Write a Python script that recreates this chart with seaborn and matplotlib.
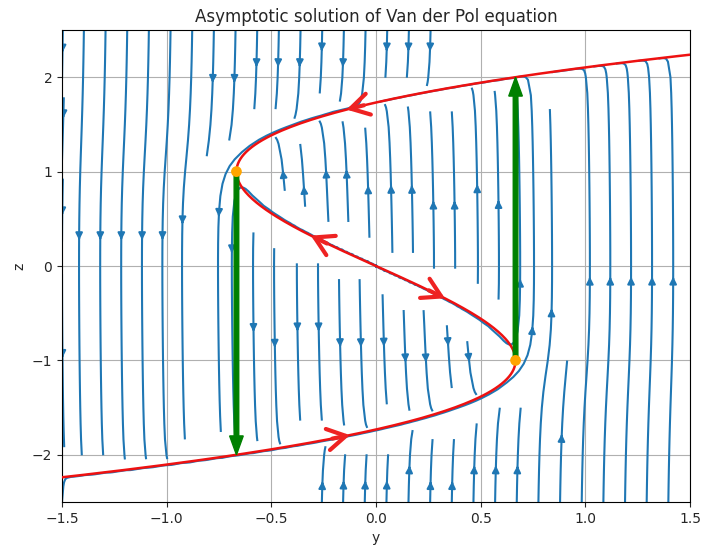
import numpy as np
import pandas as pd
import matplotlib
matplotlib.use("Agg")
import matplotlib.pyplot as plt
import seaborn as sns

# parameters / data
mu = 10.0
y_range = [-1.5, 1.5]
z_range = [-2.5, 2.5]
x_ticks = [-1.5, -1.0, -0.5, 0.0, 0.5, 1.0, 1.5]
z_ticks = [-2, -1, 0, 1, 2]
fold_y = [-2/3, 2/3]
fold_z = [1.0, -1.0]
jump_end_z = [-2.0, 2.0]
arrow_z = [1.68, 0.28, -0.30, -1.81]
arrow_dir = [-1, -1, 1, 1]

sns.set_style("white")
fig = plt.figure(figsize=(7.01, 5.49), dpi=100)
ax = fig.add_axes([62/701, 1-502/549, 628/701, 472/549])

Y, Z = np.meshgrid(np.linspace(*y_range, 200), np.linspace(*z_range, 200))
U = -Z / mu
V = mu * (Y - (Z**3/3 - Z))
ax.streamplot(Y, Z, U, V, density=1, color="#1f77b4", linewidth=1.5)

zc = np.linspace(-2.5, 2.5, 400)
curve = pd.DataFrame({"y": zc**3/3 - zc, "z": zc})
sns.lineplot(data=curve, x="y", y="z", sort=False, estimator=None, color="#ee1111", lw=1.8, ax=ax, zorder=5)

for yv, z0, z1 in zip(fold_y, fold_z, jump_end_z):
    ax.arrow(yv, z0, 0, z1 - z0, width=0.022, head_width=0.065, head_length=0.2,
             length_includes_head=True, color="green", zorder=6)

sns.scatterplot(x=fold_y, y=fold_z, color="orange", s=60, ax=ax, zorder=7, edgecolor="none")

px_y = 628 / 3.0   # pixels per data unit, horizontal
px_z = 472 / 5.0   # pixels per data unit, vertical
for zt, d in zip(arrow_z, arrow_dir):
    ya = zt**3/3 - zt
    ty, tz = (zt**2 - 1), 1.0
    n = np.hypot(ty * px_y, tz * px_z)
    ty, tz = ty / n, tz / n          # data units per pixel along tangent
    if np.sign(ty) != d:
        ty, tz = -ty, -tz
    L = 9
    ax.annotate("", xy=(ya + L*ty, zt + L*tz), xytext=(ya - L*ty, zt - L*tz),
                arrowprops=dict(arrowstyle="->,head_length=0.6,head_width=0.35", color="#ee2222", lw=3,
                                shrinkA=0, shrinkB=0, mutation_scale=22), zorder=8)

ax.set_xlim(*y_range)
ax.set_ylim(*z_range)
ax.set_xticks(x_ticks)
ax.set_yticks(z_ticks)
ax.grid(True, color="#b0b0b0", lw=0.8)
ax.set_axisbelow(True)
for s in ax.spines.values():
    s.set_color("black")
    s.set_linewidth(0.8)
ax.tick_params(left=True, bottom=True, length=3.5, width=0.8, labelsize=10)
ax.set_xlabel("y")
ax.set_ylabel("z")
ax.set_title("Asymptotic solution of Van der Pol equation", fontsize=12)
fig.savefig("out.png", dpi=100)
